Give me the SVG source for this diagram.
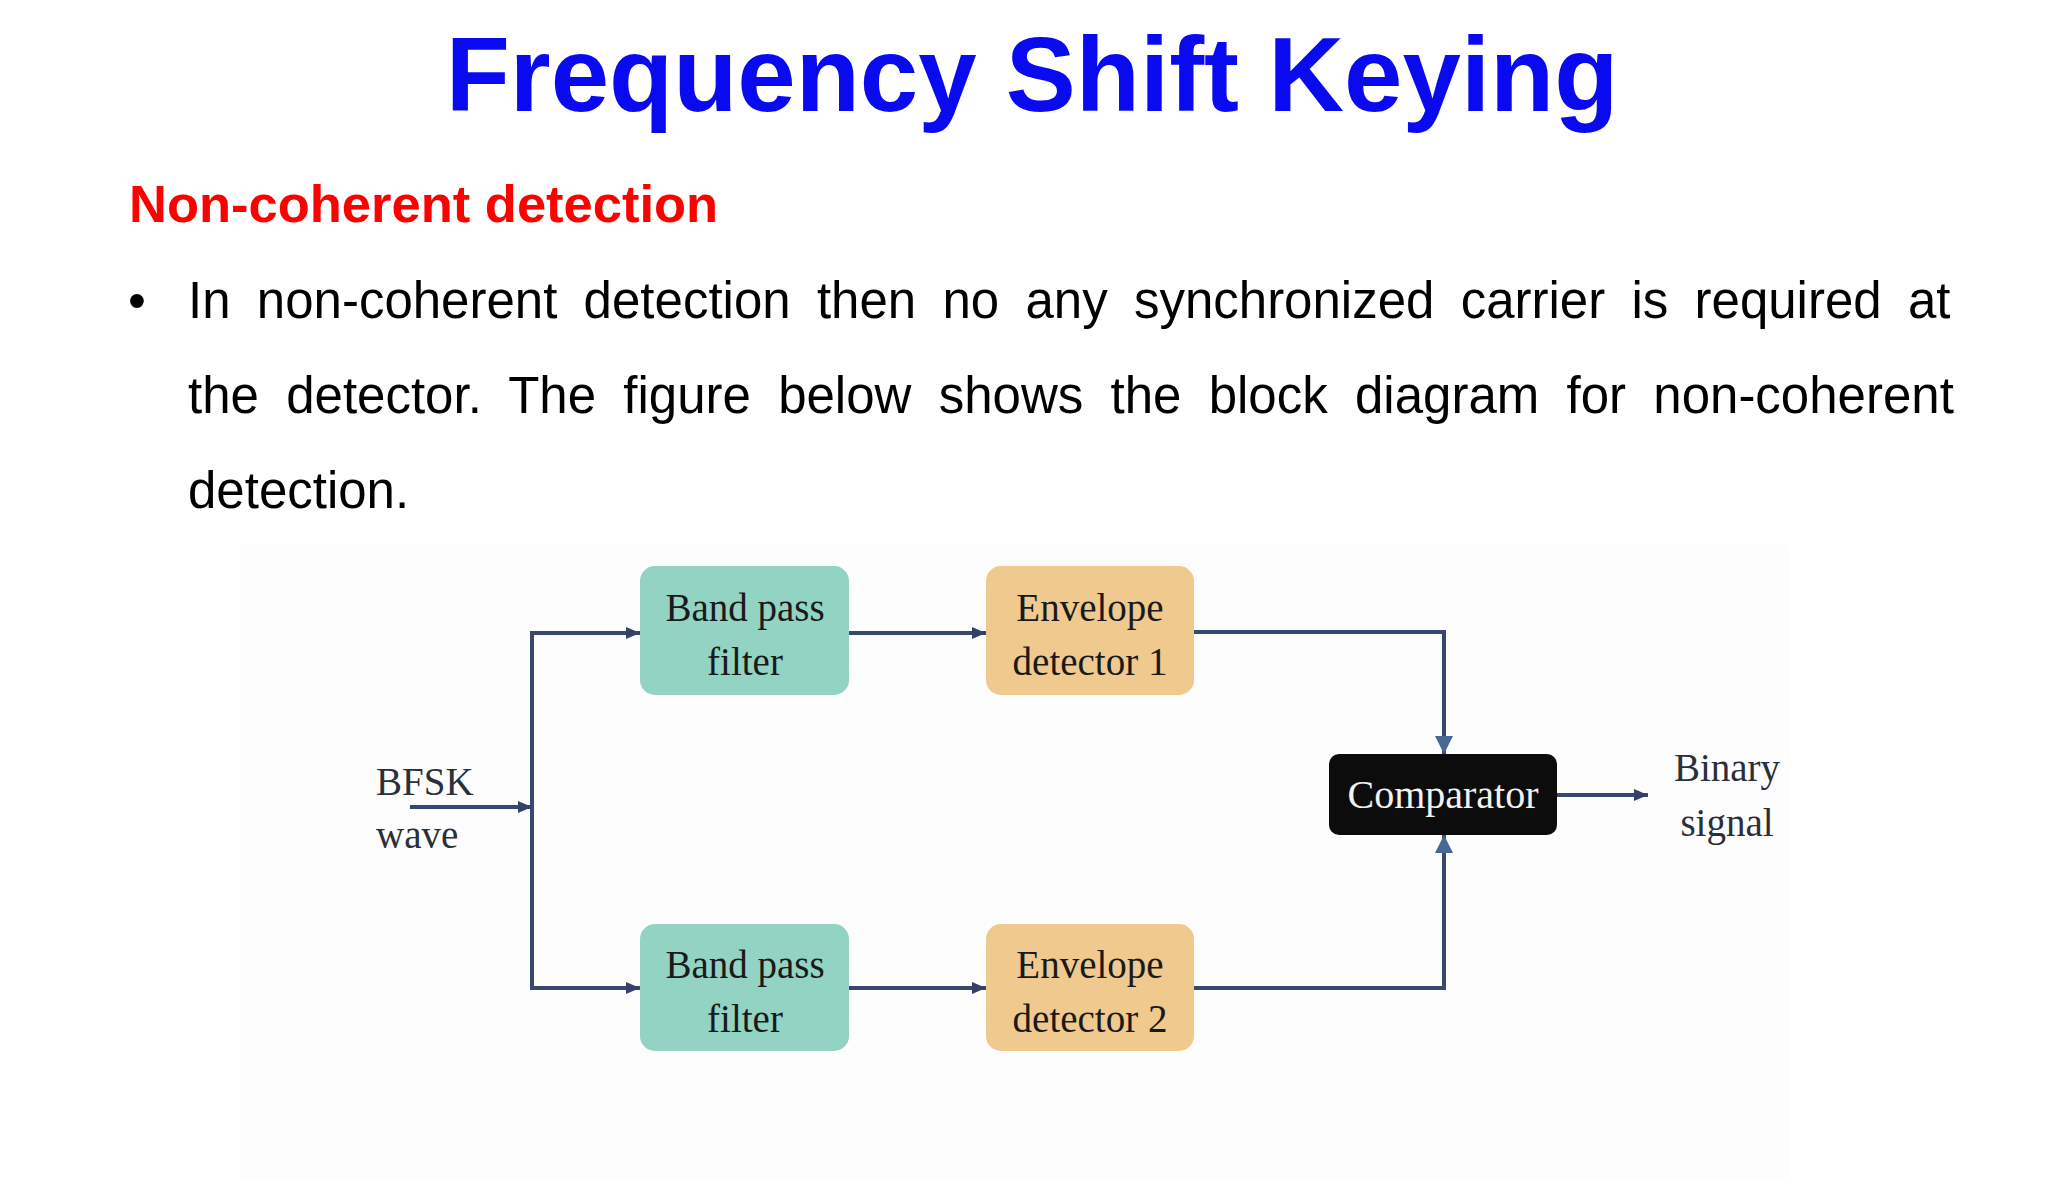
<svg xmlns="http://www.w3.org/2000/svg" width="2048" height="1182" viewBox="0 0 2048 1182">
<style>
.title{font-family:"Liberation Sans",Arial,sans-serif;font-weight:bold;font-size:105px;fill:#0a0af0}
.sub{font-family:"Liberation Sans",Arial,sans-serif;font-weight:bold;font-size:52.5px;fill:#ff0000}
.body{font-family:"Liberation Sans",Arial,sans-serif;font-size:51px;fill:#000}
.lbl{font-family:"Liberation Serif","Times New Roman",serif;font-size:39px;fill:#1a1a1a;text-anchor:middle}
.free{font-family:"Liberation Serif","Times New Roman",serif;font-size:39px;fill:#2a2f3a}
.bpf{fill:#92d3c4}
.env{fill:#f0c98f}
.cmp{fill:#0c0c0c}
.wire{fill:none;stroke:#3a4770;stroke-width:4}
</style>
<defs>
<marker id="ah" markerUnits="userSpaceOnUse" markerWidth="14" markerHeight="12" refX="14" refY="6" orient="auto">
<path d="M0,0 L14,6 L0,12 Z" fill="#34406a"/>
</marker>
<marker id="ahb" markerUnits="userSpaceOnUse" markerWidth="18" markerHeight="18" refX="18" refY="9" orient="auto">
<path d="M0,0 L18,9 L0,18 Z" fill="#476892"/>
</marker>
</defs>
<rect width="2048" height="1182" fill="#ffffff"/>
<rect x="240" y="545" width="1550" height="637" fill="#fdfdfe"/>
<text class="title" x="1032" y="111" text-anchor="middle">Frequency Shift Keying</text>
<text class="sub" x="129" y="222">Non-coherent detection</text>
<text class="body" x="128" y="318">•</text>
<text class="body" x="188" y="318" word-spacing="12.1">In non-coherent detection then no any synchronized carrier is required at</text>
<text class="body" x="188" y="413" word-spacing="13.1">the detector. The figure below shows the block diagram for non-coherent</text>
<text class="body" x="188" y="508">detection.</text>
<g id="connectors">
<path class="wire" d="M410,807 H532" marker-end="url(#ah)"/>
<path class="wire" d="M532,633 V988"/>
<path class="wire" d="M530,633 H640" marker-end="url(#ah)"/>
<path class="wire" d="M530,988 H640" marker-end="url(#ah)"/>
<path class="wire" d="M849,633 H986" marker-end="url(#ah)"/>
<path class="wire" d="M849,988 H986" marker-end="url(#ah)"/>
<path class="wire" d="M1194,632 H1444 V754" marker-end="url(#ahb)"/>
<path class="wire" d="M1194,988 H1444 V835" marker-end="url(#ahb)"/>
<path class="wire" d="M1557,795 H1648" marker-end="url(#ah)"/>
</g>
<g id="bpf1">
<rect class="bpf" x="640" y="566" width="209" height="129" rx="15"/>
<text class="lbl" x="745" y="621">Band pass</text>
<text class="lbl" x="745" y="675">filter</text>
</g>
<g id="env1">
<rect class="env" x="986" y="566" width="208" height="129" rx="15"/>
<text class="lbl" x="1090" y="621">Envelope</text>
<text class="lbl" x="1090" y="675">detector 1</text>
</g>
<g id="bpf2">
<rect class="bpf" x="640" y="924" width="209" height="127" rx="15"/>
<text class="lbl" x="745" y="978">Band pass</text>
<text class="lbl" x="745" y="1032">filter</text>
</g>
<g id="env2">
<rect class="env" x="986" y="924" width="208" height="127" rx="15"/>
<text class="lbl" x="1090" y="978">Envelope</text>
<text class="lbl" x="1090" y="1032">detector 2</text>
</g>
<g id="comparator">
<rect class="cmp" x="1329" y="754" width="228" height="81" rx="10"/>
<text class="lbl" x="1443" y="808" style="fill:#f2f2f2;font-size:40px">Comparator</text>
</g>
<g id="input">
<text class="free" x="376" y="795">BFSK</text>
<text class="free" x="376" y="848">wave</text>
</g>
<g id="output">
<text class="free" x="1727" y="781" text-anchor="middle">Binary</text>
<text class="free" x="1727" y="836" text-anchor="middle">signal</text>
</g>
</svg>
